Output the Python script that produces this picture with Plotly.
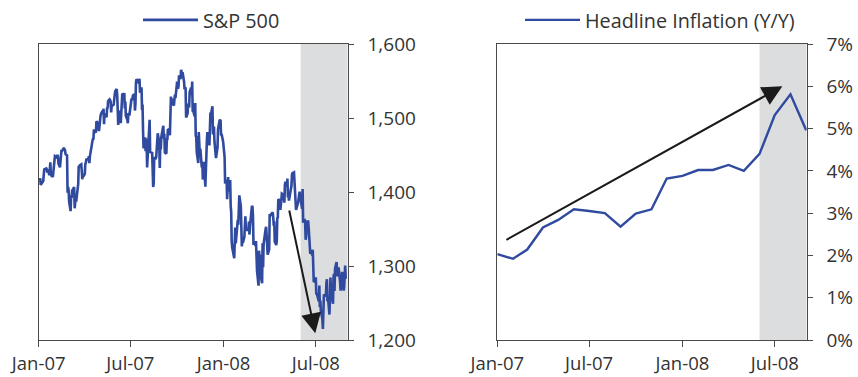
import plotly.graph_objects as go

# ---------------- data ----------------
sp_dates = [
 "2007-01-03","2007-01-04","2007-01-05","2007-01-08","2007-01-09","2007-01-10","2007-01-11","2007-01-12","2007-01-16","2007-01-17","2007-01-18","2007-01-19","2007-01-22","2007-01-23","2007-01-24","2007-01-25","2007-01-26","2007-01-29","2007-01-30","2007-01-31",
 "2007-02-01","2007-02-02","2007-02-05","2007-02-06","2007-02-07","2007-02-08","2007-02-09","2007-02-12","2007-02-13","2007-02-14","2007-02-15","2007-02-16","2007-02-20","2007-02-21","2007-02-22","2007-02-23","2007-02-26","2007-02-27","2007-02-28",
 "2007-03-01","2007-03-02","2007-03-05","2007-03-06","2007-03-07","2007-03-08","2007-03-09","2007-03-12","2007-03-13","2007-03-14","2007-03-15","2007-03-16","2007-03-19","2007-03-20","2007-03-21","2007-03-22","2007-03-23","2007-03-26","2007-03-27","2007-03-28","2007-03-29","2007-03-30",
 "2007-04-02","2007-04-03","2007-04-04","2007-04-05","2007-04-09","2007-04-10","2007-04-11","2007-04-12","2007-04-13","2007-04-16","2007-04-17","2007-04-18","2007-04-19","2007-04-20","2007-04-23","2007-04-24","2007-04-25","2007-04-26","2007-04-27","2007-04-30",
 "2007-05-01","2007-05-02","2007-05-03","2007-05-04","2007-05-07","2007-05-08","2007-05-09","2007-05-10","2007-05-11","2007-05-14","2007-05-15","2007-05-16","2007-05-17","2007-05-18","2007-05-21","2007-05-22","2007-05-23","2007-05-24","2007-05-25","2007-05-29","2007-05-30","2007-05-31",
 "2007-06-01","2007-06-04","2007-06-05","2007-06-06","2007-06-07","2007-06-08","2007-06-11","2007-06-12","2007-06-13","2007-06-14","2007-06-15","2007-06-18","2007-06-19","2007-06-20","2007-06-21","2007-06-22","2007-06-25","2007-06-26","2007-06-27","2007-06-28","2007-06-29",
 "2007-07-02","2007-07-03","2007-07-05","2007-07-06","2007-07-09","2007-07-10","2007-07-11","2007-07-12","2007-07-13","2007-07-16","2007-07-17","2007-07-18","2007-07-19","2007-07-20","2007-07-23","2007-07-24","2007-07-25","2007-07-26","2007-07-27","2007-07-30","2007-07-31",
 "2007-08-01","2007-08-02","2007-08-03","2007-08-06","2007-08-07","2007-08-08","2007-08-09","2007-08-10","2007-08-13","2007-08-14","2007-08-15","2007-08-16","2007-08-17","2007-08-20","2007-08-21","2007-08-22","2007-08-23","2007-08-24","2007-08-27","2007-08-28","2007-08-29","2007-08-30","2007-08-31",
 "2007-09-04","2007-09-05","2007-09-06","2007-09-07","2007-09-10","2007-09-11","2007-09-12","2007-09-13","2007-09-14","2007-09-17","2007-09-18","2007-09-19","2007-09-20","2007-09-21","2007-09-24","2007-09-25","2007-09-26","2007-09-27","2007-09-28",
 "2007-10-01","2007-10-02","2007-10-03","2007-10-04","2007-10-05","2007-10-08","2007-10-09","2007-10-10","2007-10-11","2007-10-12","2007-10-15","2007-10-16","2007-10-17","2007-10-18","2007-10-19","2007-10-22","2007-10-23","2007-10-24","2007-10-25","2007-10-26","2007-10-29","2007-10-30","2007-10-31",
 "2007-11-01","2007-11-02","2007-11-05","2007-11-06","2007-11-07","2007-11-08","2007-11-09","2007-11-12","2007-11-13","2007-11-14","2007-11-15","2007-11-16","2007-11-19","2007-11-20","2007-11-21","2007-11-23","2007-11-26","2007-11-27","2007-11-28","2007-11-29","2007-11-30",
 "2007-12-03","2007-12-04","2007-12-05","2007-12-06","2007-12-07","2007-12-10","2007-12-11","2007-12-12","2007-12-13","2007-12-14","2007-12-17","2007-12-18","2007-12-19","2007-12-20","2007-12-21","2007-12-24","2007-12-26","2007-12-27","2007-12-28","2007-12-31",
 "2008-01-02","2008-01-03","2008-01-04","2008-01-07","2008-01-08","2008-01-09","2008-01-10","2008-01-11","2008-01-14","2008-01-15","2008-01-16","2008-01-17","2008-01-18","2008-01-22","2008-01-23","2008-01-24","2008-01-25","2008-01-28","2008-01-29","2008-01-30","2008-01-31",
 "2008-02-01","2008-02-04","2008-02-05","2008-02-06","2008-02-07","2008-02-08","2008-02-11","2008-02-12","2008-02-13","2008-02-14","2008-02-15","2008-02-19","2008-02-20","2008-02-21","2008-02-22","2008-02-25","2008-02-26","2008-02-27","2008-02-28","2008-02-29",
 "2008-03-03","2008-03-04","2008-03-05","2008-03-06","2008-03-07","2008-03-10","2008-03-11","2008-03-12","2008-03-13","2008-03-14","2008-03-17","2008-03-18","2008-03-19","2008-03-20","2008-03-24","2008-03-25","2008-03-26","2008-03-27","2008-03-28","2008-03-31",
 "2008-04-01","2008-04-02","2008-04-03","2008-04-04","2008-04-07","2008-04-08","2008-04-09","2008-04-10","2008-04-11","2008-04-14","2008-04-15","2008-04-16","2008-04-17","2008-04-18","2008-04-21","2008-04-22","2008-04-23","2008-04-24","2008-04-25","2008-04-28","2008-04-29","2008-04-30",
 "2008-05-01","2008-05-02","2008-05-05","2008-05-06","2008-05-07","2008-05-08","2008-05-09","2008-05-12","2008-05-13","2008-05-14","2008-05-15","2008-05-16","2008-05-19","2008-05-20","2008-05-21","2008-05-22","2008-05-23","2008-05-27","2008-05-28","2008-05-29","2008-05-30",
 "2008-06-02","2008-06-03","2008-06-04","2008-06-05","2008-06-06","2008-06-09","2008-06-10","2008-06-11","2008-06-12","2008-06-13","2008-06-16","2008-06-17","2008-06-18","2008-06-19","2008-06-20","2008-06-23","2008-06-24","2008-06-25","2008-06-26","2008-06-27","2008-06-30",
 "2008-07-01","2008-07-02","2008-07-03","2008-07-07","2008-07-08","2008-07-09","2008-07-10","2008-07-11","2008-07-14","2008-07-15","2008-07-16","2008-07-17","2008-07-18","2008-07-21","2008-07-22","2008-07-23","2008-07-24","2008-07-25","2008-07-28","2008-07-29","2008-07-30","2008-07-31",
 "2008-08-01","2008-08-04","2008-08-05","2008-08-06","2008-08-07","2008-08-08","2008-08-11","2008-08-12","2008-08-13","2008-08-14","2008-08-15","2008-08-18","2008-08-19","2008-08-20","2008-08-21","2008-08-22","2008-08-25","2008-08-26","2008-08-27","2008-08-28","2008-08-29",
]
sp_close = [
 1416.6,1418.3,1409.7,1412.8,1412.1,1414.9,1423.8,1430.7,1431.9,1430.6,1426.4,1430.5,1422.9,1431.0,1440.1,1423.9,1422.2,1420.6,1428.8,1438.2,
 1445.9,1448.4,1447.0,1448.0,1450.0,1448.3,1438.1,1433.4,1444.3,1455.3,1456.8,1455.5,1459.7,1457.6,1456.4,1451.2,1449.4,1399.0,1406.8,
 1403.2,1387.2,1374.1,1395.4,1392.0,1401.9,1402.8,1406.6,1378.0,1387.2,1392.3,1387.0,1402.1,1410.9,1435.0,1434.5,1436.1,1437.5,1428.6,1417.2,1422.5,1420.9,
 1424.6,1437.8,1439.4,1443.8,1444.6,1448.4,1438.9,1447.8,1452.9,1468.3,1471.5,1472.5,1470.7,1484.4,1480.9,1480.4,1495.4,1494.3,1494.1,1482.4,
 1486.3,1495.9,1502.4,1505.6,1509.5,1507.7,1512.6,1491.5,1505.9,1503.2,1501.2,1514.1,1512.8,1522.8,1525.1,1524.1,1522.3,1507.5,1515.7,1518.1,1530.2,1530.6,
 1536.3,1539.2,1531.0,1517.4,1490.7,1507.7,1509.1,1493.0,1515.7,1523.0,1532.9,1531.1,1533.7,1512.8,1522.2,1502.6,1497.7,1492.9,1506.3,1505.7,1503.4,
 1519.4,1524.9,1525.4,1530.4,1531.9,1510.1,1518.8,1547.7,1552.5,1549.5,1549.4,1546.2,1553.1,1534.1,1541.6,1511.0,1518.1,1482.7,1459.0,1473.9,1455.3,
 1465.8,1472.2,1433.1,1467.7,1476.7,1497.5,1453.1,1453.6,1452.9,1426.5,1406.7,1411.3,1445.9,1445.6,1447.1,1464.1,1462.5,1479.4,1466.8,1432.4,1463.8,1457.6,1474.0,
 1489.4,1472.3,1478.6,1453.6,1451.7,1471.5,1471.6,1484.0,1484.3,1476.7,1519.8,1529.0,1518.8,1525.8,1517.7,1517.2,1525.4,1531.4,1526.8,
 1547.0,1546.6,1539.6,1542.8,1557.6,1552.6,1565.2,1562.5,1554.4,1561.8,1548.7,1538.5,1541.2,1540.1,1500.6,1506.3,1519.6,1515.9,1514.4,1535.3,1541.0,1531.0,1549.4,
 1508.4,1509.7,1502.2,1520.3,1475.6,1474.8,1453.7,1439.2,1481.1,1470.6,1451.2,1458.7,1433.3,1439.7,1416.8,1440.7,1407.2,1428.2,1469.0,1469.7,1481.1,
 1472.4,1462.8,1485.0,1507.3,1504.7,1516.0,1477.7,1486.6,1488.4,1468.0,1445.9,1455.0,1453.0,1460.1,1484.5,1496.5,1497.7,1476.3,1478.5,1468.4,
 1447.2,1447.2,1411.6,1416.2,1390.2,1409.1,1420.3,1401.0,1416.3,1381.0,1373.2,1333.3,1325.2,1310.5,1338.6,1352.1,1330.6,1354.0,1362.3,1355.8,1378.6,
 1395.4,1380.8,1336.6,1326.5,1336.9,1331.3,1339.1,1348.9,1367.2,1348.9,1349.0,1348.8,1360.0,1342.5,1353.1,1371.8,1381.3,1380.0,1367.7,1330.6,
 1331.3,1326.8,1333.7,1304.3,1293.4,1273.4,1320.7,1308.8,1315.5,1288.1,1276.6,1330.7,1298.4,1329.5,1349.9,1353.0,1341.1,1325.8,1315.2,1322.7,
 1370.2,1367.5,1369.3,1370.4,1372.5,1365.5,1354.5,1360.6,1332.8,1328.3,1334.4,1364.7,1365.6,1390.3,1388.2,1375.9,1379.9,1388.8,1397.8,1396.4,1390.9,1385.6,
 1409.3,1413.9,1407.5,1418.3,1392.6,1397.7,1388.3,1403.6,1403.0,1408.7,1423.6,1425.4,1426.6,1413.4,1390.7,1394.4,1375.9,1385.4,1390.8,1398.3,1400.4,
 1385.7,1377.7,1377.2,1404.1,1360.7,1361.8,1358.4,1335.5,1339.9,1360.0,1360.1,1350.9,1337.8,1342.8,1317.9,1318.0,1314.3,1322.0,1283.2,1278.4,1280.0,
 1284.9,1261.5,1262.9,1252.3,1273.7,1244.7,1253.4,1239.5,1228.3,1214.9,1245.4,1260.3,1260.7,1260.0,1277.0,1282.2,1252.5,1257.8,1234.4,1263.2,1284.3,1267.4,
 1260.3,1249.0,1284.9,1289.2,1266.1,1296.3,1305.3,1289.6,1285.8,1292.9,1298.2,1278.6,1266.7,1274.5,1277.7,1292.2,1266.8,1271.5,1281.7,1300.7,1282.8,
]

infl_dates = ["2007-01-01","2007-02-01","2007-03-01","2007-04-01","2007-05-01","2007-06-01","2007-07-01",
              "2007-08-01","2007-09-01","2007-10-01","2007-11-01","2007-12-01","2008-01-01","2008-02-01",
              "2008-03-01","2008-04-01","2008-05-01","2008-06-01","2008-07-01","2008-08-01","2008-09-01"]
infl_values = [2.03, 1.92, 2.14, 2.66, 2.84, 3.09, 3.05, 3.00, 2.68, 2.99, 3.09, 3.82, 3.88, 4.02,
               4.02, 4.14, 4.00, 4.40, 5.32, 5.81, 4.96]

tick_dates = ["2007-01-01", "2007-07-01", "2008-01-01", "2008-07-01"]
tick_labels = ["Jan-07", "Jul-07", "Jan-08", "Jul-08"]
sp_ticks = [1200, 1300, 1400, 1500, 1600]
sp_tick_labels = ["1,200", "1,300", "1,400", "1,500", "1,600"]
infl_ticks = [0, 1, 2, 3, 4, 5, 6, 7]
infl_tick_labels = ["0%", "1%", "2%", "3%", "4%", "5%", "6%", "7%"]

shade_start = "2008-06-01"
x_range = ["2007-01-01", "2008-09-02"]

# arrows (tail -> head), in data units
sp_arrow_tail = ("2008-05-09", 1377)
sp_arrow_head = ("2008-06-30", 1209)
infl_arrow_tail = ("2007-01-16", 2.35)
infl_arrow_head = ("2008-07-16", 6.0)

# ---------------- style ----------------
BLUE = "#2F4A9F"
FONT = "Open Sans"
TXT = "#333333"
AX = "#4a4a4a"
SHADE = "#DCDDDF"

fig = go.Figure()
fig.add_trace(go.Scatter(x=sp_dates, y=sp_close, mode="lines", name="S&P 500",
                         line=dict(color=BLUE, width=2.6), xaxis="x", yaxis="y", legend="legend"))
fig.add_trace(go.Scatter(x=infl_dates, y=infl_values, mode="lines", name="Headline Inflation (Y/Y)",
                         line=dict(color=BLUE, width=2.4), xaxis="x2", yaxis="y2", legend="legend2"))

ydom = [37 / 377, 333 / 377]
common_x = dict(type="date", range=x_range, tickvals=tick_dates, ticktext=tick_labels,
                ticks="outside", ticklen=6, tickcolor=AX, showline=True, linecolor=AX, linewidth=1,
                mirror=True, showgrid=False, zeroline=False, fixedrange=True, automargin=False,
                ticklabelstandoff=1, tickfont=dict(family=FONT, size=18.5, color=TXT))
common_y = dict(side="right", ticks="outside", ticklen=5, tickcolor=AX, showline=True, linecolor=AX,
                linewidth=1, mirror=True, showgrid=False, zeroline=False, fixedrange=True,
                automargin=False, ticklabelstandoff=10, tickfont=dict(family=FONT, size=19, color=TXT))
legend_common = dict(xanchor="left", y=1 - 20 / 377, yanchor="middle", bgcolor="rgba(0,0,0,0)",
                     itemwidth=55, borderwidth=0, font=dict(family=FONT, size=19.8, color=TXT))

fig.update_layout(
    width=858, height=377,
    margin=dict(l=0, r=0, t=0, b=0, pad=0, autoexpand=False),
    paper_bgcolor="white", plot_bgcolor="white",
    xaxis=dict(domain=[38.7 / 858, 347.7 / 858], anchor="y", **common_x),
    xaxis2=dict(domain=[497.3 / 858, 806.7 / 858], anchor="y2", **common_x),
    yaxis=dict(domain=ydom, anchor="x", range=[1200, 1600], tickvals=sp_ticks,
               ticktext=sp_tick_labels, **common_y),
    yaxis2=dict(domain=ydom, anchor="x2", range=[0, 7], tickvals=infl_ticks,
                ticktext=infl_tick_labels, **common_y),
    legend=dict(x=138 / 858, **legend_common),
    legend2=dict(x=520 / 858, **legend_common),
    showlegend=True,
)

for xr, yr in (("x", "y"), ("x2", "y2")):
    fig.add_shape(type="rect", xref=xr, yref=f"{yr} domain", x0=shade_start, x1=x_range[1],
                  y0=0, y1=1, fillcolor=SHADE, line=dict(width=0), layer="below")

for (tail, head, xr, yr) in ((sp_arrow_tail, sp_arrow_head, "x", "y"),
                             (infl_arrow_tail, infl_arrow_head, "x2", "y2")):
    fig.add_annotation(x=head[0], y=head[1], ax=tail[0], ay=tail[1], xref=xr, yref=yr,
                       axref=xr, ayref=yr, showarrow=True, arrowhead=2, arrowsize=2.0,
                       arrowwidth=2, arrowcolor="#1a1a1a", text="", standoff=0)

fig.write_html("out.html", config={"displayModeBar": False},
               post_script="document.body.style.margin='0';document.body.style.overflow='hidden';")
